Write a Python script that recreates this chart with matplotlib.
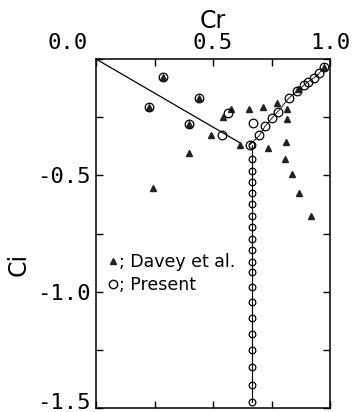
import matplotlib
matplotlib.use('Agg')
import matplotlib.pyplot as plt
import matplotlib.transforms as mtransforms
from matplotlib.lines import Line2D

# Davey et al. (triangles)
davey_cr = [0.288, 0.440, 0.228, 0.397, 0.399, 0.244, 0.490, 0.544, 0.578, 0.615,
            0.653, 0.712, 0.775, 0.818, 0.818, 0.812, 0.736, 0.808, 0.839, 0.868,
            0.919, 0.865, 0.975]
davey_ci = [-0.076, -0.168, -0.205, -0.278, -0.405, -0.555, -0.327, -0.248, -0.213, -0.368,
            -0.214, -0.208, -0.190, -0.216, -0.259, -0.355, -0.384, -0.430, -0.496, -0.575,
            -0.674, -0.130, -0.035]

# Present (circles, scattered part)
present_cr = [0.288, 0.440, 0.228, 0.397, 0.537, 0.565, 0.672]
present_ci = [-0.076, -0.168, -0.205, -0.278, -0.328, -0.231, -0.275]

# Present, upper branch
branch_cr = [0.658, 0.698, 0.722, 0.751, 0.776, 0.824, 0.860, 0.889, 0.907, 0.932, 0.953, 0.975]
branch_ci = [-0.368, -0.328, -0.289, -0.255, -0.226, -0.168, -0.137, -0.112, -0.097, -0.080,
             -0.062, -0.035]

# Present, vertical column (Cr constant)
col_cr = 0.665
col_ci = [-0.370, -0.430, -0.480, -0.527, -0.575, -0.623, -0.675, -0.722, -0.774, -0.821,
          -0.871, -0.915, -0.978, -1.044, -1.113, -1.182, -1.250, -1.322, -1.401, -1.473]

# straight line
line_cr = [0.0, 0.615]
line_ci = [0.0, -0.36]

fig = plt.figure(figsize=(3.53, 4.12), dpi=100)
ax = fig.add_axes([0.272, 0.0097, 0.663, 0.847])

ax.plot(line_cr, line_ci, color='black', lw=0.9)
ax.plot([col_cr] * len(col_ci), col_ci, color='black', lw=0.8)
ax.plot(branch_cr, branch_ci, color='black', lw=0.6)

ax.plot(davey_cr, davey_ci, linestyle='none', marker='^', ms=5, color='#222222')
ax.plot(present_cr, present_ci, linestyle='none', marker='o', ms=6.2,
        mfc='none', mec='black', mew=0.9)
ax.plot(branch_cr, branch_ci, linestyle='none', marker='o', ms=6.2,
        mfc='none', mec='black', mew=0.9)
ax.plot([col_cr] * len(col_ci), col_ci, linestyle='none', marker='o', ms=4.8,
        mfc='none', mec='black', mew=0.9)

ax.set_xlim(0, 1.0)
ax.set_ylim(-1.5, 0)
ax.set_xticks([0, 0.25, 0.5, 0.75, 1.0])
ax.set_xticklabels(['0.0', '', '0.5', '', '1.0'])
ax.set_yticks([0, -0.25, -0.5, -0.75, -1.0, -1.25, -1.5])
ax.set_yticklabels(['', '', '-0.5', '', '-1.0', '', '-1.5'])
ax.xaxis.tick_top()
ax.xaxis.set_label_position('top')
ax.tick_params(direction='in', length=5, width=1.0, top=True, bottom=True,
               left=True, right=True, labeltop=True, labelbottom=False,
               labelsize=16, pad=4)
for lab in ax.get_xticklabels() + ax.get_yticklabels():
    lab.set_family('DejaVu Sans Mono')
# first x label sits left of the corner in the original
first = ax.get_xticklabels()[0]
first.set_transform(first.get_transform() +
                    mtransforms.ScaledTranslation(-28 / 100, 0, fig.dpi_scale_trans))
# bottom y label is lifted a little so it stays inside the figure
last = ax.get_yticklabels()[-1]
last.set_transform(last.get_transform() +
                   mtransforms.ScaledTranslation(0, 7 / 100, fig.dpi_scale_trans))

ax.set_xlabel('Cr', fontsize=17, labelpad=4)
ax.set_ylabel('Ci', fontsize=17)
ax.yaxis.set_label_coords(-0.28, 0.41)
for s in ax.spines.values():
    s.set_linewidth(1.1)

handles = [Line2D([], [], linestyle='none', marker='^', ms=5, color='#222222'),
           Line2D([], [], linestyle='none', marker='o', ms=6, mfc='none', mec='black')]
ax.legend(handles, ['; Davey et al.', '; Present'], loc='upper left',
          bbox_to_anchor=(0.0, 0.48), frameon=False, fontsize=12.5,
          handlelength=0.6, handletextpad=0.05, labelspacing=0.3, borderpad=0.2)

fig.savefig('out.png', dpi=100)
